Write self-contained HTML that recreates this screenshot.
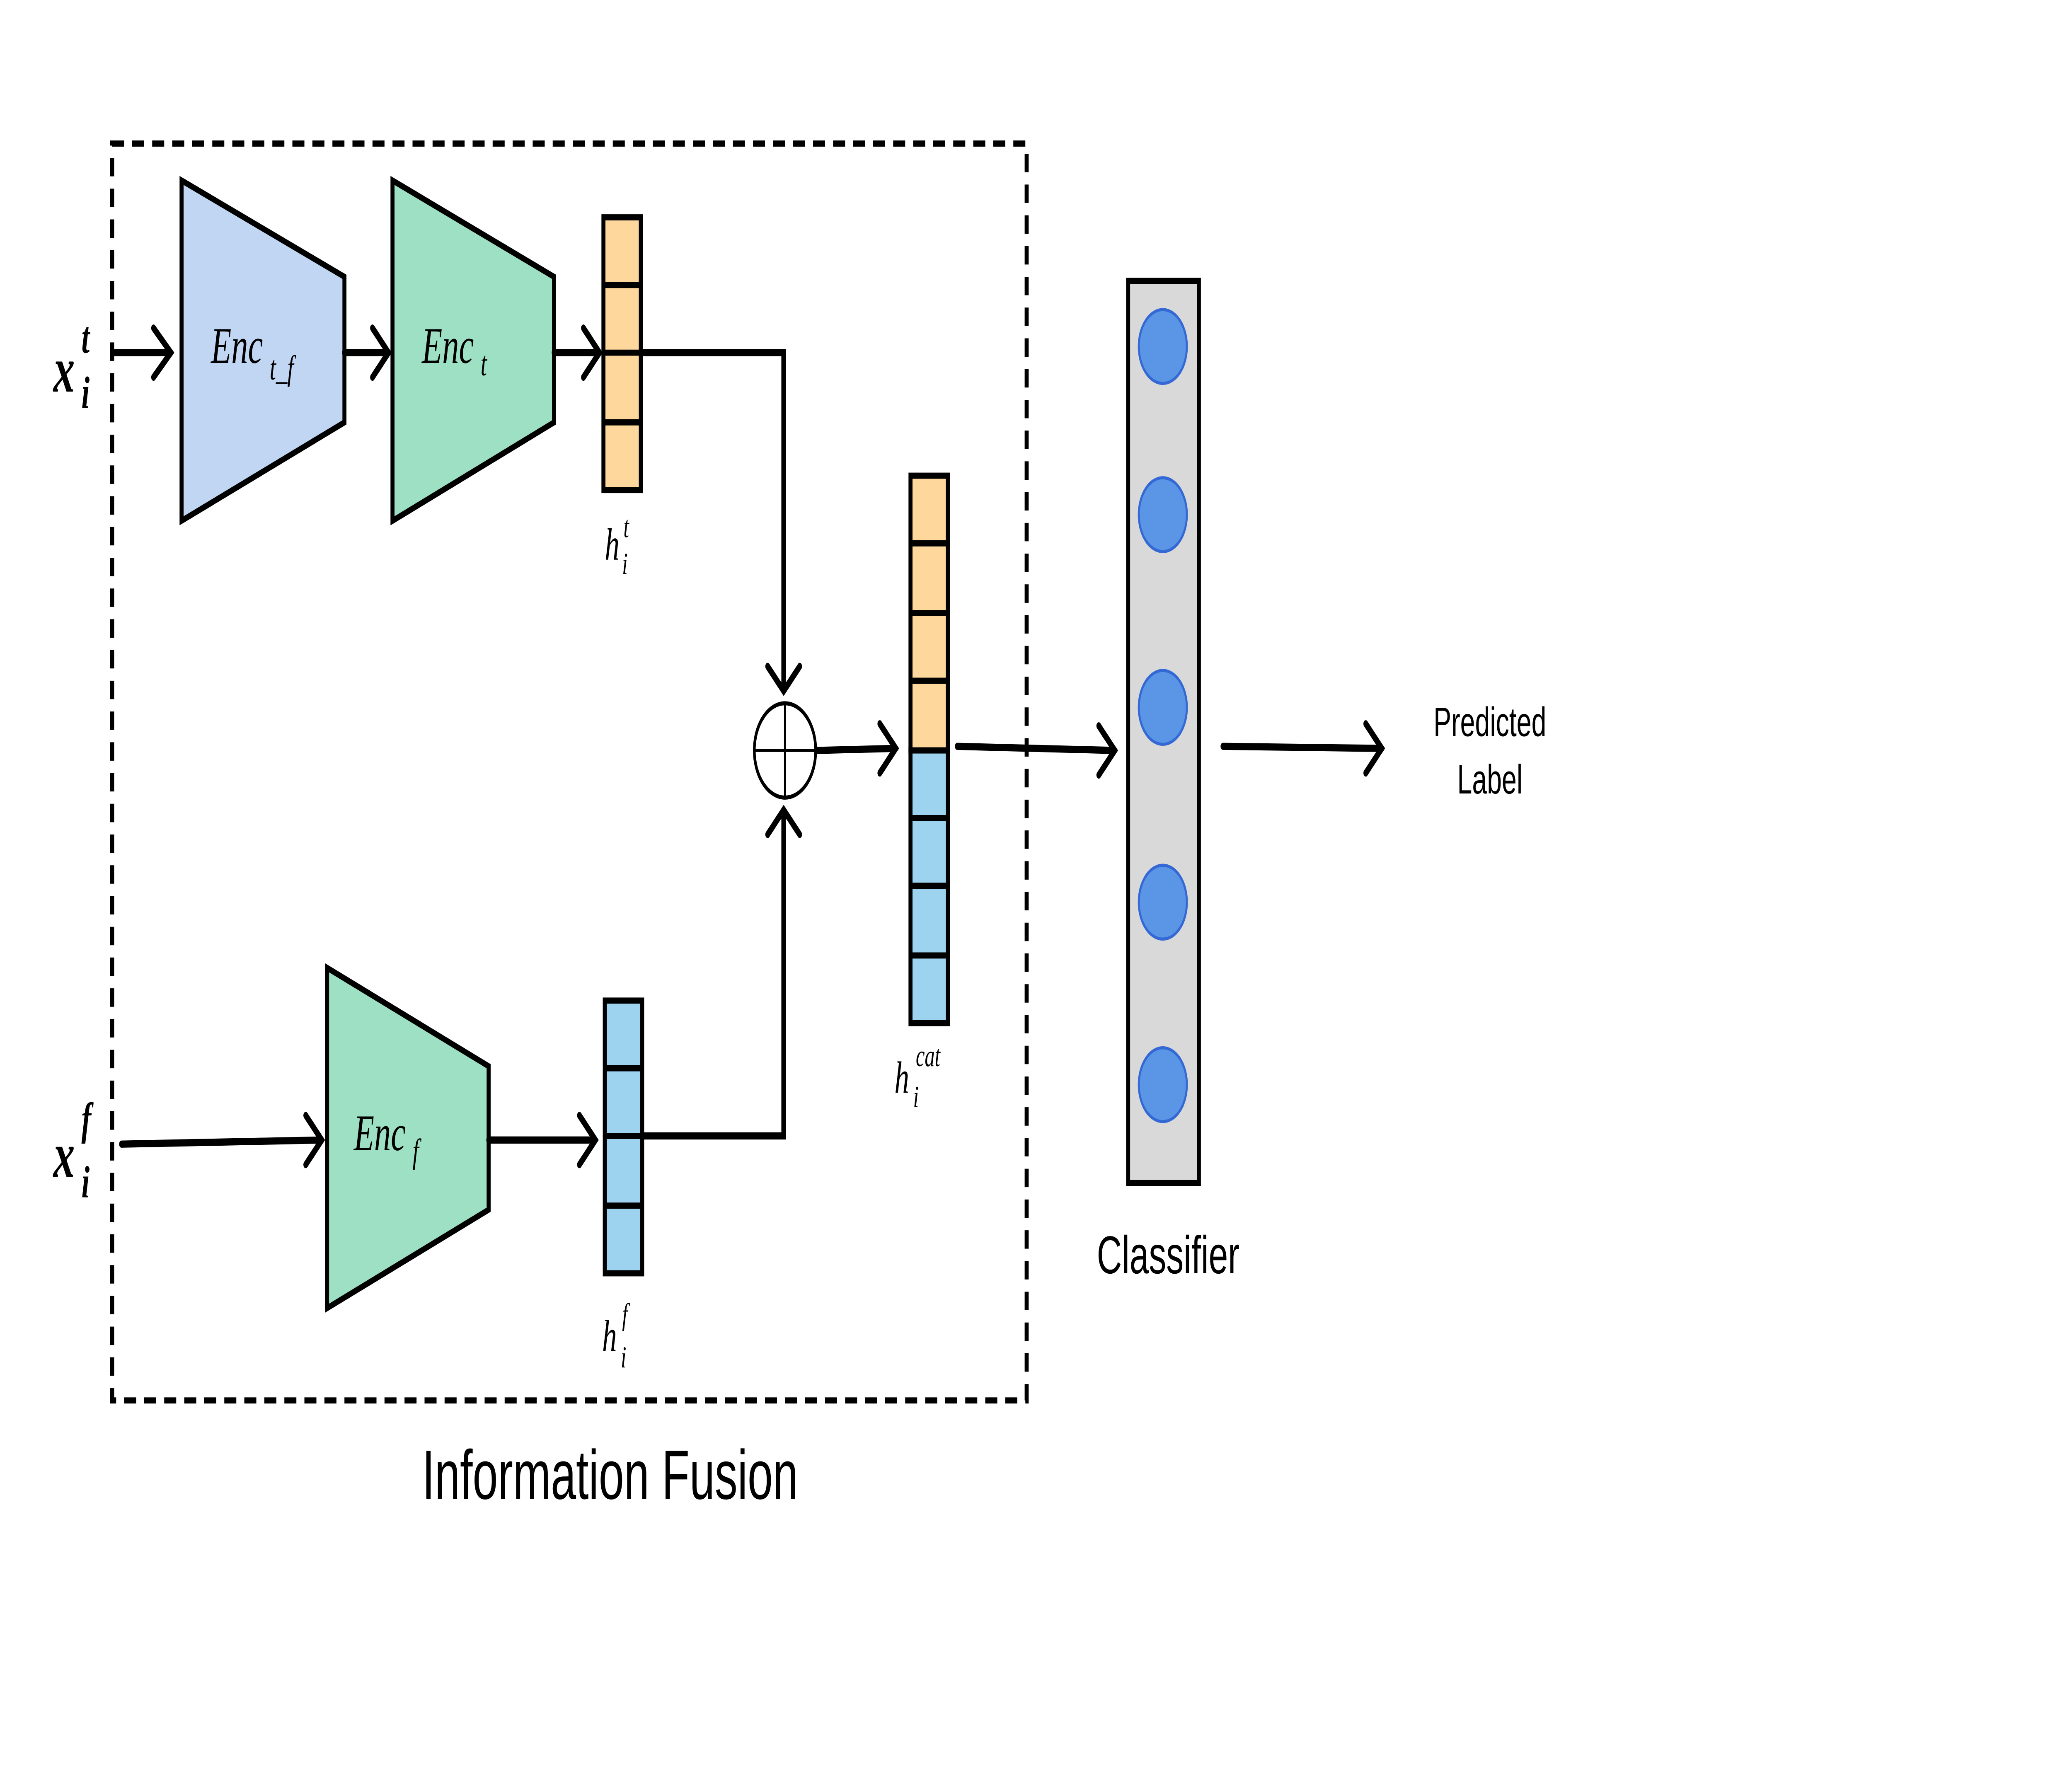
<!DOCTYPE html>
<html><head><meta charset="utf-8"><style>html,body{margin:0;padding:0;background:#fff;overflow:hidden;width:100%;height:100%}svg{display:block;width:100vw;height:100vh}</style></head>
<body>
<svg viewBox="0 0 1552 873" preserveAspectRatio="none" xmlns="http://www.w3.org/2000/svg">
<rect width="1552" height="873" fill="#fff"/>
<rect x="84" y="70" width="685" height="613" fill="none" stroke="#000" stroke-width="3" stroke-dasharray="9,6"/>
<g stroke="#000" stroke-width="3" stroke-linejoin="miter">
<polygon points="136,88 258,135 258,206 136,254" fill="#c1d6f3"/>
<polygon points="294,88 415,135 415,206 294,254" fill="#9de0c3"/>
<polygon points="245,472 366,520 366,590 245,638" fill="#9de0c3"/>
<rect x="452" y="106" width="28" height="133" fill="#fdd79b"/>
<line x1="452" y1="139" x2="480" y2="139"/><line x1="452" y1="172" x2="480" y2="172"/><line x1="452" y1="206" x2="480" y2="206"/>
<rect x="453" y="488" width="28" height="133" fill="#9ed3ef"/>
<line x1="453" y1="521" x2="481" y2="521"/><line x1="453" y1="554" x2="481" y2="554"/><line x1="453" y1="588" x2="481" y2="588"/>
<rect x="682" y="232" width="28" height="134" fill="#fdd79b"/>
<rect x="682" y="366" width="28" height="133" fill="#9ed3ef"/>
<line x1="682" y1="265" x2="710" y2="265"/><line x1="682" y1="299" x2="710" y2="299"/><line x1="682" y1="332" x2="710" y2="332"/><line x1="682" y1="366" x2="710" y2="366"/><line x1="682" y1="399" x2="710" y2="399"/><line x1="682" y1="432" x2="710" y2="432"/><line x1="682" y1="466" x2="710" y2="466"/>
<rect x="845" y="137" width="53" height="440" fill="#d9d9d9"/>
</g>
<g fill="#5b96e6" stroke="#3468d4" stroke-width="1.5">
<circle cx="871" cy="169" r="18"/><circle cx="871" cy="251" r="18"/><circle cx="871" cy="345" r="18"/><circle cx="871" cy="440" r="18"/><circle cx="871" cy="529" r="18"/>
</g>
<g stroke="#000" stroke-width="3.5" fill="none" stroke-linecap="round">
<line x1="84" y1="172" x2="128" y2="172"/><polyline points="115,160 128,172 115,184"/>
<line x1="258" y1="172" x2="291" y2="172"/><polyline points="279,160 291,172 279,184"/>
<line x1="415" y1="172" x2="449" y2="172"/><polyline points="437,160 449,172 437,184"/>
<polyline points="480,172 587,172 587,337"/><polyline points="575,325 587,337 599,325"/>
<polyline points="481,554 587,554 587,395"/><polyline points="575,407 587,395 599,407"/>
<line x1="91" y1="558" x2="241" y2="556"/><polyline points="229,544 241,556 229,568"/>
<line x1="366" y1="556" x2="446" y2="556"/><polyline points="434,544 446,556 434,568"/>
<line x1="611" y1="366" x2="671" y2="365"/><polyline points="659,353 671,365 659,377"/>
<line x1="717" y1="364" x2="835" y2="366"/><polyline points="823,354 835,366 823,378"/>
<line x1="916" y1="364" x2="1035" y2="365"/><polyline points="1023,353 1035,365 1023,377"/>
</g>
<circle cx="588" cy="366" r="23" fill="#fff" stroke="#000" stroke-width="2"/>
<line x1="565" y1="366" x2="611" y2="366" stroke="#000" stroke-width="1.5"/>
<line x1="588" y1="343" x2="588" y2="389" stroke="#000" stroke-width="1.5"/>
<g font-family="'Liberation Serif',serif" font-style="italic">
<text x="40" y="191" font-size="32" font-weight="bold">x</text><text x="61" y="172" font-size="22" font-weight="bold">t</text><text x="61" y="199" font-size="22" font-weight="bold">i</text>
<text x="40" y="574" font-size="32" font-weight="bold">x</text><text x="61" y="553" font-size="22" font-weight="bold">f</text><text x="61" y="584" font-size="22" font-weight="bold">i</text>
<text x="158" y="177" font-size="25">Enc</text><text x="202" y="185" font-size="17">t_f</text>
<text x="316" y="177" font-size="25">Enc</text><text x="360" y="183" font-size="17">t</text>
<text x="265" y="561" font-size="25">Enc</text><text x="309" y="567" font-size="17">f</text>
<text x="453" y="273" font-size="22">h</text><text x="467" y="262" font-size="15">t</text><text x="466" y="280" font-size="15">i</text>
<text x="451" y="659" font-size="22">h</text><text x="466" y="646" font-size="15">f</text><text x="465" y="667" font-size="15">i</text>
<text x="670" y="533" font-size="22">h</text><text x="686" y="520" font-size="15">cat</text><text x="684" y="540" font-size="15">i</text>
</g>
<g font-family="'Liberation Sans',sans-serif" text-anchor="middle">
<text x="1116" y="359" font-size="20">Predicted</text>
<text x="1116" y="387" font-size="20">Label</text>
<text x="875" y="621" font-size="26">Classifier</text>
<text x="457" y="731" font-size="34">Information Fusion</text>
</g>
</svg>
</body></html>
